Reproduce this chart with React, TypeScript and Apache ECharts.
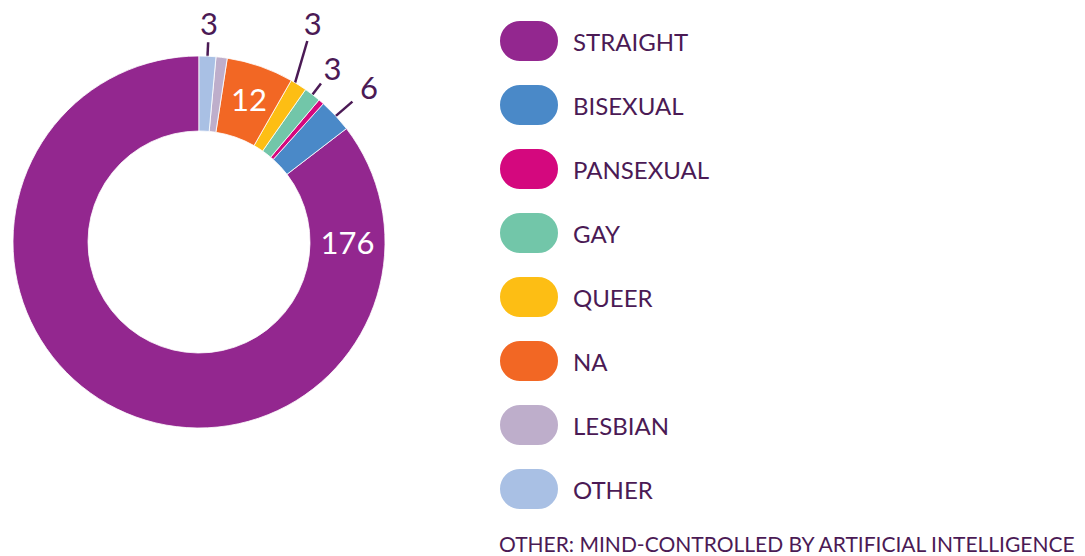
import React, { useEffect, useRef } from "react";
import * as echarts from "echarts";

const CATEGORIES = ["STRAIGHT", "BISEXUAL", "PANSEXUAL", "GAY", "QUEER", "NA", "LESBIAN", "OTHER"];
const VALUES = [176, 6, 1, 3, 3, 12, 2, 3];
const COLORS = ["#93278F", "#4A89C8", "#D4087E", "#72C6A9", "#FDBE14", "#F26724", "#BEAECB", "#A9C0E4"];
// how each slice's value label is shown
const LABEL_MODE = ["inside-right", "outside", "none", "outside", "outside", "inside", "none", "outside"];
const FOOTNOTE = "OTHER: MIND-CONTROLLED BY ARTIFICIAL INTELLIGENCE";

const TEXT_COLOR = "#4B1A55";
const CX = 199;
const CY = 242;
const R_IN = 111;
const R_OUT = 186;
const LINE_LEN = [0, 22, 0, 14, 44, 0, 0, 14];
const LINE_TILT = [0, 2, 0, 0, -16, 0, 0, 0];
const LABEL_GAP = [0, 22, 0, 19, 19, 0, 0, 19];
const LINE_INSET = 14;
const FONT = "Lato, 'Noto Sans', sans-serif";

export default function App() {
  const ref = useRef<HTMLDivElement>(null);
  useEffect(() => {
    if (!ref.current) return;
    const chart = echarts.init(ref.current, null, { renderer: "svg" });
    const data = CATEGORIES.map((name, i) => {
      const mode = LABEL_MODE[i];
      const item: any = { name, value: VALUES[i], itemStyle: { color: COLORS[i] } };
      if (mode === "none") {
        item.label = { show: false };
        item.labelLine = { show: false };
      } else if (mode === "outside") {
        item.label = { show: true, position: "outside", color: TEXT_COLOR };
        item.labelLine = { show: true, length: LINE_LEN[i], length2: 0 };
      } else {
        item.label = { show: true, position: "inside", color: "#ffffff" };
        item.labelLine = { show: false };
      }
      return item;
    });
    chart.setOption({
      animation: false,
      title: {
        text: FOOTNOTE,
        left: 499,
        top: 533,
        padding: 0,
        textStyle: { fontSize: 21, fontWeight: 400, color: TEXT_COLOR, fontFamily: FONT },
      },
      legend: {
        orient: "vertical",
        left: 498,
        top: 19,
        padding: 0,
        itemWidth: 60,
        itemHeight: 43,
        itemGap: 20,
        icon: "path://M21,0 H39 A21,21 0 0 1 39,42 H21 A21,21 0 0 1 21,0 Z",
        selectedMode: false,
        data: CATEGORIES,
        textStyle: {
          fontSize: 24,
          color: TEXT_COLOR,
          fontFamily: FONT,
          padding: [0, 0, 0, 9],
        },
      },
      series: [
        {
          type: "pie",
          center: [CX, CY],
          radius: [R_IN, R_OUT],
          startAngle: 90,
          clockwise: false,
          avoidLabelOverlap: false,
          itemStyle: { borderColor: "#ffffff", borderWidth: 0.8 },
          label: {
            fontSize: 31,
            fontWeight: 400,
            fontFamily: FONT,
            formatter: "{c}",
          },
          labelLine: {
            smooth: false,
            lineStyle: { color: TEXT_COLOR, width: 2.5 },
          },
          emphasis: { disabled: true },
          labelLayout: (p: any) => {
            const i = p.dataIndex;
            if (LABEL_MODE[i] === "inside-right") {
              return { x: CX + (R_IN + R_OUT) / 2, y: CY, align: "center", verticalAlign: "middle" };
            }
            const pts = p.labelLinePoints;
            if (LABEL_MODE[i] !== "outside" || !pts) return {};
            const a = pts[0];
            const b = pts[1];
            const dx = b[0] - a[0];
            const dy = b[1] - a[1];
            const len = Math.hypot(dx, dy) || 1;
            const ux = dx / len;
            const uy = dy / len;
            const start = [a[0] - ux * LINE_INSET, a[1] - uy * LINE_INSET];
            const t = (LINE_TILT[i] * Math.PI) / 180;
            const vx = ux * Math.cos(t) - uy * Math.sin(t);
            const vy = ux * Math.sin(t) + uy * Math.cos(t);
            const total = len + LINE_INSET;
            const end = [start[0] + vx * total, start[1] + vy * total];
            return {
              x: end[0] + vx * LABEL_GAP[i],
              y: end[1] + vy * LABEL_GAP[i],
              align: "center",
              verticalAlign: "middle",
              labelLinePoints: [start, end, [end[0], end[1]]],
            };
          },
          data,
        },
      ],
    });
    return () => chart.dispose();
  }, []);
  return (
    <div
      ref={ref}
      style={{ position: "absolute", left: 0, top: 0, width: 1085, height: 556, background: "#ffffff" }}
    />
  );
}
